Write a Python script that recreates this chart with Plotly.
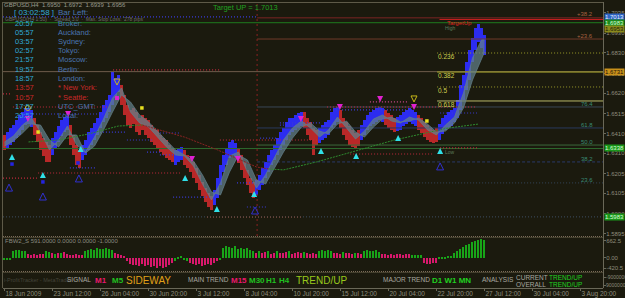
import plotly.graph_objects as go

W, H = 625, 298
BG = "#1b1a0e"
FONT = "Liberation Sans"
AXC = "#6a6858"
TXT = "#8e8c7c"

# ================= data =================
date_bars = [0, 16, 32, 48, 64, 80, 96, 112, 128, 144, 160, 176, 192]
date_labels = ["18 Jun 2009", "23 Jun 12:00", "26 Jun 04:00", "30 Jun 20:00",
               "3 Jul 12:00", "8 Jul 04:00", "10 Jul 20:00", "15 Jul 12:00",
               "20 Jul 04:00", "22 Jul 20:00", "27 Jul 12:00", "30 Jul 04:00",
               "3 Aug 20:00"]
price_ticks = [1.7035, 1.6930, 1.6830, 1.6720, 1.6620, 1.6515, 1.6410,
               1.6310, 1.6205, 1.6105, 1.6000, 1.5895]
osc_ticks = [662.5, 0.0, -420.5]
osc_tick_text = ["662.5", "0.00", "-420.5"]
panel_ticks = [-9000000, 9000000]

bar_high = [
    1.6405, 1.6420, 1.6441, 1.6456, 1.6482, 1.6508, 1.6523, 1.6544, 1.6544, 1.6534,
    1.6492, 1.6456, 1.6420, 1.6389, 1.6369, 1.6353, 1.6389, 1.6420, 1.6451, 1.6482,
    1.6497, 1.6503, 1.6456, 1.6405, 1.6353, 1.6328, 1.6353, 1.6379, 1.6420, 1.6441,
    1.6467, 1.6492, 1.6523, 1.6559, 1.6585, 1.6611, 1.6729, 1.6698, 1.6714, 1.6662,
    1.6611, 1.6559, 1.6534, 1.6544, 1.6523, 1.6492, 1.6508, 1.6492, 1.6482, 1.6456,
    1.6441, 1.6431, 1.6405, 1.6389, 1.6379, 1.6353, 1.6338, 1.6328, 1.6338, 1.6343,
    1.6328, 1.6302, 1.6286, 1.6266, 1.6235, 1.6199, 1.6163, 1.6132, 1.6106, 1.6091,
    1.6122, 1.6183, 1.6250, 1.6302, 1.6338, 1.6369, 1.6379, 1.6364, 1.6338, 1.6302,
    1.6266, 1.6225, 1.6183, 1.6163, 1.6173, 1.6199, 1.6235, 1.6266, 1.6302, 1.6328,
    1.6353, 1.6389, 1.6420, 1.6441, 1.6472, 1.6492, 1.6492, 1.6508, 1.6518, 1.6523,
    1.6523, 1.6492, 1.6472, 1.6441, 1.6431, 1.6441, 1.6456, 1.6472, 1.6482, 1.6523,
    1.6544, 1.6549, 1.6534, 1.6492, 1.6472, 1.6451, 1.6431, 1.6415, 1.6431, 1.6456,
    1.6482, 1.6508, 1.6523, 1.6534, 1.6544, 1.6549, 1.6544, 1.6534, 1.6518, 1.6508,
    1.6492, 1.6497, 1.6508, 1.6523, 1.6534, 1.6544, 1.6534, 1.6523, 1.6508, 1.6492,
    1.6472, 1.6456, 1.6441, 1.6431, 1.6441, 1.6461, 1.6492, 1.6508, 1.6523, 1.6534,
    1.6544, 1.6585, 1.6662, 1.6714, 1.6781, 1.6843, 1.6904, 1.6956, 1.6976, 1.6956,
    1.6920]
bar_low = [
    1.6328, 1.6338, 1.6353, 1.6369, 1.6389, 1.6405, 1.6431, 1.6456, 1.6461, 1.6446,
    1.6405, 1.6369, 1.6328, 1.6297, 1.6266, 1.6266, 1.6302, 1.6338, 1.6369, 1.6400,
    1.6420, 1.6431, 1.6353, 1.6302, 1.6250, 1.6235, 1.6276, 1.6302, 1.6328, 1.6353,
    1.6379, 1.6405, 1.6441, 1.6472, 1.6492, 1.6523, 1.6559, 1.6595, 1.6626, 1.6559,
    1.6508, 1.6456, 1.6441, 1.6461, 1.6420, 1.6405, 1.6431, 1.6405, 1.6389, 1.6369,
    1.6353, 1.6338, 1.6317, 1.6302, 1.6286, 1.6276, 1.6266, 1.6250, 1.6266, 1.6276,
    1.6250, 1.6235, 1.6214, 1.6183, 1.6158, 1.6122, 1.6091, 1.6060, 1.6034, 1.6019,
    1.6044, 1.6080, 1.6147, 1.6214, 1.6250, 1.6286, 1.6302, 1.6286, 1.6261, 1.6225,
    1.6183, 1.6147, 1.6106, 1.6080, 1.6096, 1.6122, 1.6147, 1.6183, 1.6214, 1.6250,
    1.6276, 1.6302, 1.6328, 1.6353, 1.6379, 1.6405, 1.6420, 1.6431, 1.6441, 1.6451,
    1.6441, 1.6405, 1.6379, 1.6302, 1.6353, 1.6364, 1.6379, 1.6389, 1.6405, 1.6441,
    1.6456, 1.6472, 1.6441, 1.6405, 1.6379, 1.6353, 1.6343, 1.6338, 1.6348, 1.6379,
    1.6405, 1.6431, 1.6451, 1.6461, 1.6472, 1.6482, 1.6472, 1.6456, 1.6441, 1.6431,
    1.6420, 1.6425, 1.6431, 1.6451, 1.6461, 1.6472, 1.6461, 1.6451, 1.6431, 1.6415,
    1.6394, 1.6379, 1.6369, 1.6364, 1.6369, 1.6379, 1.6410, 1.6431, 1.6441, 1.6451,
    1.6472, 1.6492, 1.6534, 1.6585, 1.6637, 1.6688, 1.6781, 1.6843, 1.6884, 1.6853,
    1.6817]
trend_runs = [("R", 1), ("B", 9), ("R", 6), ("B", 6), ("R", 4), ("B", 13), ("R", 18),
              ("B", 3), ("R", 10), ("B", 8), ("R", 6), ("B", 16), ("R", 5), ("B", 7),
              ("R", 7), ("B", 8), ("R", 4), ("B", 7), ("R", 7), ("B", 16)]

ribbon_bars = [0, 3, 6, 9, 12, 15, 18, 21, 24, 27, 30, 33, 36, 39, 42, 45, 48, 51,
               54, 57, 60, 63, 66, 69, 72, 75, 78, 81, 84, 87, 90, 93, 96, 99, 102,
               105, 108, 111, 114, 117, 120, 123, 126, 129, 132, 135, 138, 141, 144,
               147, 150, 153, 156, 159, 160]
ribbon_fast = [1.6369, 1.6400, 1.6456, 1.6492, 1.6420, 1.6328, 1.6379, 1.6451, 1.6353,
               1.6317, 1.6394, 1.6487, 1.6595, 1.6647, 1.6523, 1.6467, 1.6446, 1.6394,
               1.6343, 1.6302, 1.6297, 1.6245, 1.6152, 1.6070, 1.6158, 1.6297, 1.6317,
               1.6214, 1.6132, 1.6199, 1.6291, 1.6379, 1.6441, 1.6477, 1.6441, 1.6394,
               1.6431, 1.6497, 1.6441, 1.6384, 1.6425, 1.6487, 1.6508, 1.6477, 1.6467,
               1.6497, 1.6482, 1.6431, 1.6405, 1.6456, 1.6497, 1.6621, 1.6801, 1.6894,
               1.6894]
ribbon_slow = [1.6348, 1.6374, 1.6415, 1.6461, 1.6456, 1.6379, 1.6343, 1.6405, 1.6405,
               1.6312, 1.6348, 1.6431, 1.6523, 1.6611, 1.6575, 1.6508, 1.6472, 1.6425,
               1.6374, 1.6328, 1.6302, 1.6271, 1.6199, 1.6111, 1.6096, 1.6214, 1.6302,
               1.6276, 1.6173, 1.6152, 1.6235, 1.6317, 1.6389, 1.6446, 1.6467, 1.6425,
               1.6410, 1.6461, 1.6477, 1.6420, 1.6394, 1.6446, 1.6487, 1.6497, 1.6472,
               1.6477, 1.6492, 1.6461, 1.6420, 1.6425, 1.6467, 1.6544, 1.6688, 1.6801,
               1.6832]

long_ma_rise1_bars = [8, 18, 28, 38, 46]
long_ma_rise1 = [1.6369, 1.6379, 1.6410, 1.6451, 1.6456]
long_ma_fall_bars = [46, 60, 71, 79, 84, 88]
long_ma_fall = [1.6456, 1.6394, 1.6328, 1.6276, 1.6240, 1.6230]
long_ma_rise2_bars = [88, 93, 104, 118, 130, 148, 158]
long_ma_rise2 = [1.6230, 1.6225, 1.6266, 1.6328, 1.6379, 1.6441, 1.6461]

osc_values = [
    -80, -100, -90,
    250, 320, 300, 280, 260,
    150, 120, 140, 110, 130, 150,
    250, 230,
    180, 160, 200, 170, 210, 150,
    120, 100, 130, 90, 110,
    280, 320, 350, 300, 380, 340, 360, 400, 330, 300,
    180, 150, 120, 60,
    -150, -250, -300, -280, -320, -250, -350, -300, -380, -320, -400, -350, -430, -380, -300, -200,
    -120, -60, 80, -90, -150,
    -200, -260, -300, -250, -330, -280, -240, -300, -220, -150,
    -80,
    400, 460, 420, 380, 440, 360, 400, 330, 380, 300, 280,
    200, 260, 180, 220, 280, 160, 190, 250, 170, 200, 230, 260, 150, 180, 210, 170, 240, 200, 150, 180, 130,
    260, 300, 280, 320, 270,
    180, 200, 160, 240, 190, 170, 150, 200, 180, 160,
    260, 300, 280, 250, 290, 230,
    130, 150, 120, 140, 110, 130, 150, 120, 140, 130,
    100, 120, 90, 110,
    -220, -250, -240, -230, -200,
    -40, -30, -20, 30, 40,
    200, 280, 350, 420, 480, 520, 600, 650, 700, 730, 700]
osc_kind = ("ggg" "ggggg" "pppppp" "gg" "pgpgpp" "ppppp" "gggggggggg" "pppp"
            "pppppppppppppppp" "ggggg" "pppppppppp" "g" "ggggggggggg"
            "pgppgppgpppgppppgpppp" "ggggg" "pppgpppgpp" "gggggg" "pppppppppp"
            "gggg" "ppppp" "ggggg" "ggggggggggg")

# signal markers (bar position, price)
cyan_up_x = [2.5, 12.8, 25.4, 60.2, 70.8, 83.2, 105.5, 117.2, 131.2, 145.2]
cyan_up_y = [1.6307, 1.6214, 1.6348, 1.6199, 1.6039, 1.6116, 1.6338, 1.6312, 1.6405, 1.6338]
mag_dn_x = [7.8, 21.2, 62.5, 77.8, 98.8, 111.8, 125.2, 136.5]
mag_dn_y = [1.6472, 1.6497, 1.6266, 1.6266, 1.6472, 1.6534, 1.6575, 1.6534]
mag_sq_x = [37.5]
mag_sq_y = [1.6595]
yel_dn_x = [37.5, 136.5]
yel_dn_y = [1.6662, 1.6575]
yel_ring_x = [7.8]
yel_ring_y = [1.6544]
blue_up_x = [1.5, 12.8, 24.8, 83.5, 145.2]
blue_up_y = [1.6152, 1.6106, 1.6199, 1.6034, 1.6261]
yel_sq_x = [11.2, 45.8, 140.8]
yel_sq_y = [1.6420, 1.6544, 1.6477]
blue_sq_x = [2.5, 12.8, 24.5]
blue_sq_y = [1.6255, 1.6163, 1.6261]

# support / resistance segments: level, start bar, end bar
red_dot_level = [1.6616, 1.6549, 1.6740, 1.6183, 1.6209, 1.6379, 1.6307, 1.6549, 1.6338]
red_dot_start = [-0.5, 2.8, 36.2, -0.5, 11.2, 71.8, 115.2, 107.5, 145.2]
red_dot_end = [2.5, 35.2, 71.8, 10.8, 58.5, 105.2, 142.8, 157.5, 157.5]
pink_dot_level = [1.6575]
pink_dot_start = [121.8]
pink_dot_end = [134.2]
brown_dot_level = [1.5982]
brown_dot_start = [67.5]
brown_dot_end = [99.5]
blue_dot_level = [1.7013, 1.6513, 1.6420, 1.6379, 1.6317, 1.6302, 1.6235, 1.6085,
                  1.6415, 1.6158, 1.6034, 1.6456, 1.6389, 1.6534, 1.6518, 1.6467]
blue_dot_start = [-0.5, 9.5, 30.8, 40.8, 47.5, 51.8, 21.8, 56.2,
                  51.8, 77.5, 80.8, 91.8, 85.2, 108.5, 145.2, 91.8]
blue_dot_end = [84.2, 35.2, 40.8, 49.5, 51.8, 58.5, 30.8, 69.5,
                58.5, 84.2, 87.5, 98.5, 90.8, 136.2, 157.5, 105.2]

divider_bar = 84.2
full_levels = [1.6983, 1.6731, 1.6335, 1.5983]
pct_levels = [1.7008, 1.6899, 1.6549, 1.6441, 1.6353, 1.6266, 1.6158]
pct_labels = ["", "+23.6", "76.4", "61.8", "50.0", "38.2", "23.6"]
fib_start = 144.2
fib_levels = [1.6827, 1.6729, 1.6652, 1.6580]
fib_labels = ["0.236", "0.382", "0.5", "0.618"]
target_level = 1.7000
target_start = 145.0
box_prices = [1.7013, 1.6983, 1.6953, 1.6731, 1.6338, 1.5983]

clock_times = ["20:57", "05:57", "03:57", "02:57", "21:57", "19:57", "18:57",
               "13:57", "10:57", "17:57", "20:57"]
clock_cities = ["Broker:", "Auckland:", "Sydney:", "Tokyo:", "Moscow:", "Berlin:",
                "London:", "* New York:", "* Seattle:", "UTC_GMT:", "Local:"]

# ================= styles =================
BLUE = "#2c2cf0"
RED = "#b82828"
full_styles = [("#1f7a1f", "solid"), ("#6e5c4c", "solid"), ("#2e6a2e", "solid"),
               ("#3e4e62", "1px,2px")]
pct_styles = [("#7a2424", "solid"), ("#6e3a2a", "solid"), ("#3a4656", "solid"),
              ("#2a3a5c", "solid"), ("#3a6a3a", "solid"), ("#2a3a6a", "3px,2px"),
              ("#34465a", "1px,2px")]
fib_styles = [("#9a9a28", "1px,2px"), ("#a8a828", "solid"), ("#9a9a28", "1px,2px"),
              ("#b8b868", "solid")]
box_styles = [("#2e64c4", "#e8f0ff"), ("#1c8a1c", "#d8ffd8"), ("#8a8a1c", "#202008"),
              ("#c8901a", "#1a1208"), ("#1a961a", "#d8ffd8"), ("#1a961a", "#d8ffd8")]

X_END = 199.5
Y_LO, Y_HI = 1.58846, 1.70845

fig = go.Figure()


def segments(levels, starts, ends):
    xs, ys = [], []
    for lv, s, e in zip(levels, starts, ends):
        xs += [s, e, None]
        ys += [lv, lv, None]
    return xs, ys


def seg_trace(levels, starts, ends, color, dash, width=1):
    xs, ys = segments(levels, starts, ends)
    fig.add_trace(go.Scatter(x=xs, y=ys, mode="lines", hoverinfo="skip",
                             line=dict(color=color, width=width, dash=dash),
                             xaxis="x", yaxis="y"))


for lv, (c, d) in zip(full_levels, full_styles):
    seg_trace([lv], [-0.5], [X_END], c, d)
for lv, (c, d) in zip(pct_levels, pct_styles):
    seg_trace([lv], [divider_bar], [X_END], c, d)
for lv, (c, d) in zip(fib_levels, fib_styles):
    seg_trace([lv], [fib_start], [X_END], c, d)
seg_trace([target_level], [target_start], [X_END], "#d42020", "solid")

seg_trace(red_dot_level, red_dot_start, red_dot_end, "#c0283c", "1px,2px", 1.2)
seg_trace(pink_dot_level, pink_dot_start, pink_dot_end, "#d04890", "1px,2px", 1.2)
seg_trace(brown_dot_level, brown_dot_start, brown_dot_end, "#7a4a3a", "1px,2px", 1.2)
seg_trace(blue_dot_level, blue_dot_start, blue_dot_end, "#3a3ad8", "1px,2px", 1.2)

fig.add_trace(go.Scatter(x=[divider_bar, divider_bar], y=[Y_LO, Y_HI], mode="lines",
                         hoverinfo="skip", line=dict(color="#8a2020", width=1, dash="2px,3px"),
                         xaxis="x", yaxis="y"))

# price bars
trend = "".join(c * n for c, n in trend_runs)
idx = list(range(len(bar_high)))
fig.add_trace(go.Bar(x=idx, y=[h - l for h, l in zip(bar_high, bar_low)], base=bar_low,
                     width=0.7, marker=dict(color=[BLUE if t == "B" else RED for t in trend],
                                            line=dict(width=0)),
                     xaxis="x", yaxis="y", hoverinfo="skip"))

# ribbon
RIB = "rgba(98,128,138,0.72)"
fig.add_trace(go.Scatter(x=ribbon_bars, y=ribbon_slow, mode="lines", line=dict(color=RIB, width=1),
                         xaxis="x", yaxis="y", hoverinfo="skip"))
fig.add_trace(go.Scatter(x=ribbon_bars, y=ribbon_fast, mode="lines", line=dict(color=RIB, width=1),
                         fill="tonexty", fillcolor=RIB, xaxis="x", yaxis="y", hoverinfo="skip"))

for bx, by, col in [(long_ma_rise1_bars, long_ma_rise1, "#2e8a2e"),
                    (long_ma_fall_bars, long_ma_fall, "#8a2222"),
                    (long_ma_rise2_bars, long_ma_rise2, "#2e8a2e")]:
    fig.add_trace(go.Scatter(x=bx, y=by, mode="lines", line=dict(color=col, width=1, dash="2px,1px"),
                             xaxis="x", yaxis="y", hoverinfo="skip"))


def markers(xs, ys, symbol, color, size, lw=0, lc=None):
    fig.add_trace(go.Scatter(x=xs, y=ys, mode="markers", hoverinfo="skip",
                             marker=dict(symbol=symbol, color=color, size=size,
                                         line=dict(width=lw, color=lc or color)),
                             xaxis="x", yaxis="y"))


markers(cyan_up_x, cyan_up_y, "arrow-up", "#30e0e8", 6)
markers(mag_dn_x, mag_dn_y, "arrow-down", "#e020d0", 6)
markers(mag_sq_x, mag_sq_y, "square", "#e020d0", 4)
markers(yel_dn_x, yel_dn_y, "arrow-down-open", "#c8b818", 6, 1)
markers(yel_ring_x, yel_ring_y, "circle-open", "#c8b818", 5, 1)
markers(blue_up_x, blue_up_y, "arrow-up-open", "#3030d0", 7, 1)
markers(yel_sq_x, yel_sq_y, "square", "#e8e020", 3.5)
markers(blue_sq_x, blue_sq_y, "square", "#2424e0", 3.5)

# oscillator histogram
fig.add_trace(go.Bar(x=idx, y=osc_values, width=0.55,
                     marker=dict(color=["#18a418" if k == "g" else "#d8186c" for k in osc_kind],
                                 line=dict(width=0)),
                     xaxis="x", yaxis="y2", hoverinfo="skip"))
fig.add_trace(go.Scatter(x=[None], y=[None], mode="markers", xaxis="x", yaxis="y3",
                         hoverinfo="skip"))

axis_common = dict(showgrid=False, zeroline=False, showline=True, linecolor=AXC,
                   ticks="outside", ticklen=2, tickcolor=AXC, side="right", anchor="x",
                   automargin=False, ticklabelstandoff=-1,
                   tickfont=dict(size=6, color=TXT, family=FONT), fixedrange=True)
axis_small = dict(axis_common, tickfont=dict(size=5, color=TXT, family=FONT))

fig.update_layout(
    width=W, height=H, margin=dict(l=0, r=0, t=0, b=0, pad=0), autosize=False,
    paper_bgcolor=BG, plot_bgcolor=BG, showlegend=False, barmode="overlay", bargap=0,
    xaxis=dict(domain=[3 / W, 603 / W], range=[-0.5, X_END], anchor="free",
               position=1 - 287.5 / H, showgrid=False, zeroline=False, showline=True,
               linecolor=AXC, ticks="outside", ticklen=2, tickcolor=AXC, automargin=False,
               tickvals=date_bars, ticktext=date_labels, ticklabelposition="outside right",
               tickfont=dict(size=6.5, color=TXT, family=FONT), fixedrange=True),
    yaxis=dict(domain=[1 - 236 / H, 1 - 3 / H], range=[Y_LO, Y_HI], tickvals=price_ticks,
               ticktext=[f"{v:.4f}" for v in price_ticks], **axis_common),
    yaxis2=dict(domain=[1 - 270 / H, 1 - 238 / H], range=[-498, 779], tickvals=osc_ticks,
                ticktext=osc_tick_text, **axis_common),
    yaxis3=dict(domain=[1 - 287 / H, 1 - 273 / H], range=[13.5e6, -18e6], tickvals=panel_ticks,
                ticktext=[str(v) for v in panel_ticks], **axis_small),
)


def hline_px(y, x0, x1, color, width=1, dash="solid"):
    fig.add_shape(type="line", xref="paper", yref="paper", x0=x0 / W, x1=x1 / W,
                  y0=1 - y / H, y1=1 - y / H, line=dict(color=color, width=width, dash=dash))


def vline_px(x, y0, y1, color, width=1):
    fig.add_shape(type="line", xref="paper", yref="paper", x0=x / W, x1=x / W,
                  y0=1 - y0 / H, y1=1 - y1 / H, line=dict(color=color, width=width))


hline_px(2.5, 2, 604, "#5e5a48")
vline_px(2.5, 2, 288, "#5e5a48")
vline_px(603.5, 2, 288, AXC)
hline_px(236.5, 3, 603, "#7a6a58", 1, "1px,1px")
hline_px(237.5, 3, 603, "#44402e")
hline_px(271.5, 3, 603, "#7a6a58", 1, "1px,1px")
hline_px(272.5, 3, 603, "#44402e")


def txt(x, y, s, color, size, anchor="left", bold=False, bg=None):
    fig.add_annotation(x=x / W, y=1 - y / H, xref="paper", yref="paper",
                       text=f"<b>{s}</b>" if bold else s, showarrow=False,
                       xanchor=anchor, yanchor="middle", borderpad=0,
                       bgcolor=bg, font=dict(size=size, color=color, family=FONT))


txt(3, 5, "GBPUSD,H4  1.6950  1.6972  1.6939  1.6956", "#9a9a90", 6)
txt(4, 19, "GBPUSD(H4 1:50)  ·  Spread 3.0  ·  Max. Stop Loss: '278 pips'", "#6e6e66", 5)
txt(13, 12.5, "[ 03:02:58 ]", "#30a8d8", 8)
txt(57, 12.5, "Bar Left:", "#4a74b0", 8)
for k, (t, c) in enumerate(zip(clock_times, clock_cities)):
    y = 23 + 9.25 * k
    red = c.startswith("*")
    txt(14, y, t, "#c82828" if red else "#30a8d8", 7.5)
    txt(57, y, c, "#c82828" if red else "#4a74b0", 7.5)

txt(212, 8, "Target UP = 1.7013", "#20a020", 7.5)


def dlabel(xbar, price, s, color, size=6, anchor="left"):
    fig.add_annotation(x=xbar, y=price, xref="x", yref="y", text=s, showarrow=False,
                       xanchor=anchor, yanchor="middle", borderpad=0,
                       font=dict(size=size, color=color, family=FONT))


dlabel(196.5, 1.7030, "+38.2", "#a86040", 6, "right")
for lv, lab in zip(pct_levels, pct_labels):
    if lab:
        dlabel(196.5, lv + 0.0014, lab, "#a86040" if lab.startswith("+") else "#3a8a72", 6, "right")
dlabel(147.3, 1.6984, "TargetUp", "#e02020", 6)
dlabel(146.5, 1.6958, "High", "#5a7a5a", 5)
dlabel(146.5, 1.6315, "Low", "#5a7a5a", 5)
for lv, lab in zip(fib_levels, fib_labels):
    dlabel(144.2, lv - 0.0020, lab, "#d0d050", 6.5)

for p, (bg, fc) in zip(box_prices, box_styles):
    fig.add_annotation(x=604 / W, y=p, xref="paper", yref="y", text=f"{p:.4f}",
                       showarrow=False, xanchor="left", yanchor="middle", bgcolor=bg,
                       borderpad=0, font=dict(size=6, color=fc, family=FONT))

txt(4, 240.5, "FBW2_S 591.0000 0.0000 0.0000 -1.0000", "#8a8a80", 6)

txt(3, 280, "i-ProfitTracker - MetaTrader ©", "#44443a", 5.5)
txt(66, 279.5, "SIGNAL", "#a8a8a0", 6.5)
txt(94, 280, "M1", "#e8186c", 8, bold=True)
txt(111, 280, "M5", "#20c020", 8, bold=True)
txt(125, 280.5, "SIDEWAY", "#e0a018", 10)
txt(187, 279.5, "MAIN TREND", "#a8a8a0", 6.5)
txt(230, 280, "M15", "#e8186c", 8, bold=True)
txt(248, 280, "M30", "#20c020", 8, bold=True)
txt(265, 280, "H1", "#20c020", 8, bold=True)
txt(278, 280, "H4", "#20c020", 8, bold=True)
txt(295, 280.5, "TREND/UP", "#98c81c", 10)
txt(382, 279.5, "MAJOR TREND", "#a8a8a0", 6.5)
txt(431, 280, "D1 W1 MN", "#20d020", 8, bold=True)
txt(481, 279.5, "ANALYSIS", "#a8a8a0", 6.5)
txt(515, 277.5, "CURRENT", "#a8a8a0", 6.5)
txt(515, 284, "OVERALL", "#a8a8a0", 6.5)
txt(548, 277.5, "TREND/UP", "#20d020", 6.5)
txt(548, 284, "TREND/UP", "#20d020", 6.5)

fig.write_html("out.html")
